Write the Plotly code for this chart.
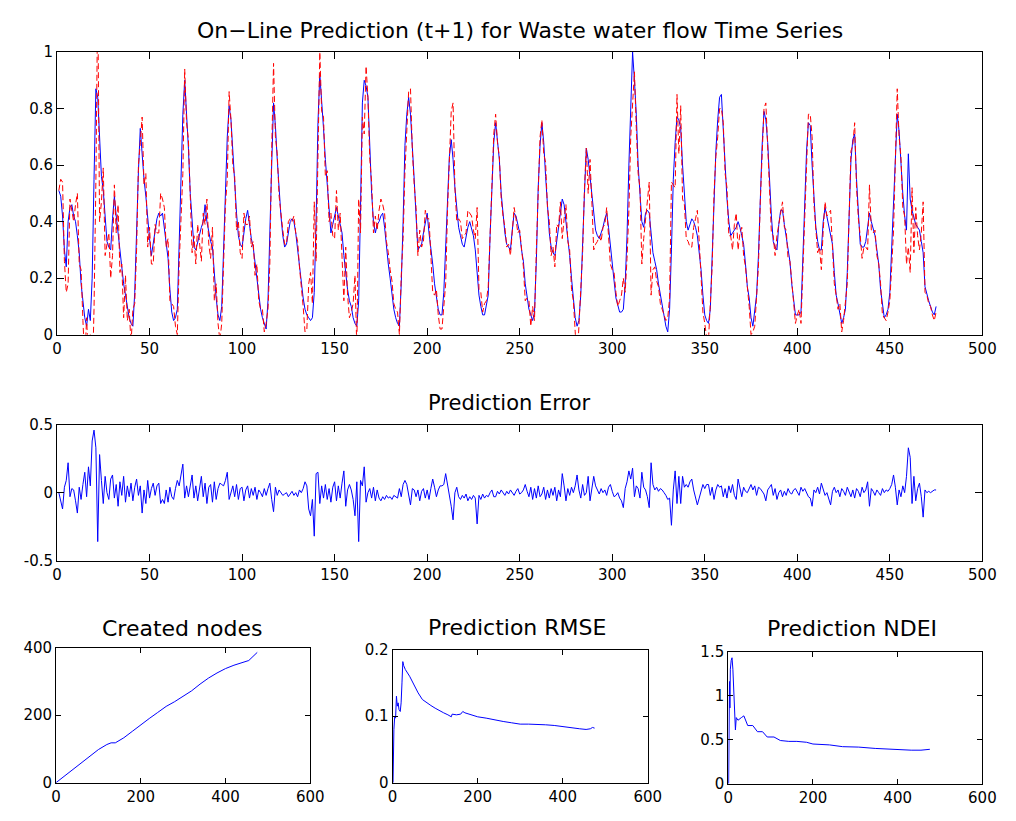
import plotly.graph_objects as go

W, H = 1016, 821

# ---------------- data ----------------
# target series (blue), one value per time step t = 1..475, in daily blocks
target_blocks = [
    [0.51, 0.49, 0.42, 0.30, 0.24, 0.40, 0.45, 0.46, 0.42, 0.40, 0.35, 0.29, 0.18, 0.11, 0.06, 0.03, 0.09, 0.05, 0.20, 0.55, 0.87, 0.84, 0.68, 0.56],
    [0.51, 0.40, 0.33, 0.31, 0.30, 0.41, 0.49, 0.42, 0.36, 0.30, 0.23, 0.18, 0.14, 0.10, 0.06, 0.04, 0.03, 0.15, 0.40, 0.58, 0.73, 0.62, 0.55, 0.49],
    [0.40, 0.34, 0.28, 0.32, 0.37, 0.41, 0.43, 0.42, 0.43, 0.37, 0.33, 0.27, 0.16, 0.08, 0.05, 0.06, 0.09, 0.30, 0.55, 0.78, 0.90, 0.80, 0.66, 0.50],
    [0.42, 0.31, 0.30, 0.33, 0.35, 0.38, 0.40, 0.46, 0.40, 0.36, 0.33, 0.31, 0.20, 0.13, 0.07, 0.05, 0.10, 0.30, 0.55, 0.70, 0.81, 0.76, 0.65, 0.53],
    [0.43, 0.35, 0.32, 0.31, 0.37, 0.41, 0.44, 0.38, 0.34, 0.31, 0.25, 0.20, 0.14, 0.09, 0.06, 0.04, 0.02, 0.12, 0.32, 0.60, 0.82, 0.74, 0.62, 0.51],
    [0.42, 0.35, 0.31, 0.32, 0.37, 0.40, 0.41, 0.40, 0.36, 0.30, 0.26, 0.18, 0.13, 0.09, 0.07, 0.06, 0.05, 0.06, 0.15, 0.40, 0.75, 0.92, 0.84, 0.73],
    [0.62, 0.53, 0.43, 0.36, 0.39, 0.42, 0.45, 0.42, 0.39, 0.36, 0.28, 0.21, 0.16, 0.12, 0.10, 0.06, 0.04, 0.03, 0.12, 0.45, 0.82, 0.90, 0.88, 0.84],
    [0.65, 0.50, 0.40, 0.36, 0.39, 0.40, 0.42, 0.43, 0.38, 0.31, 0.25, 0.20, 0.14, 0.09, 0.06, 0.04, 0.03, 0.18, 0.40, 0.67, 0.78, 0.84, 0.78, 0.68],
    [0.55, 0.42, 0.30, 0.31, 0.32, 0.36, 0.40, 0.43, 0.36, 0.31, 0.25, 0.18, 0.13, 0.09, 0.07, 0.07, 0.15, 0.32, 0.50, 0.63, 0.69, 0.62, 0.52, 0.44],
    [0.38, 0.35, 0.32, 0.31, 0.35, 0.38, 0.40, 0.37, 0.35, 0.30, 0.22, 0.14, 0.10, 0.07, 0.07, 0.10, 0.14, 0.35, 0.55, 0.68, 0.75, 0.69, 0.62, 0.50],
    [0.42, 0.36, 0.32, 0.31, 0.30, 0.37, 0.43, 0.42, 0.39, 0.36, 0.30, 0.26, 0.18, 0.14, 0.09, 0.07, 0.05, 0.08, 0.26, 0.52, 0.67, 0.75, 0.68, 0.56],
    [0.47, 0.36, 0.31, 0.29, 0.28, 0.33, 0.40, 0.44, 0.48, 0.46, 0.40, 0.36, 0.28, 0.20, 0.12, 0.06, 0.03, 0.05, 0.14, 0.35, 0.50, 0.66, 0.62, 0.56],
    [0.50, 0.42, 0.37, 0.35, 0.34, 0.36, 0.38, 0.41, 0.43, 0.38, 0.31, 0.24, 0.19, 0.13, 0.10, 0.08, 0.08, 0.09, 0.18, 0.35, 0.60, 0.80, 1.00, 0.90],
    [0.78, 0.60, 0.48, 0.40, 0.38, 0.43, 0.44, 0.43, 0.36, 0.29, 0.26, 0.23, 0.18, 0.14, 0.11, 0.07, 0.03, 0.01, 0.09, 0.30, 0.55, 0.68, 0.77, 0.76],
    [0.73, 0.60, 0.50, 0.40, 0.37, 0.39, 0.41, 0.40, 0.38, 0.35, 0.29, 0.23, 0.14, 0.07, 0.05, 0.04, 0.09, 0.28, 0.45, 0.65, 0.76, 0.84, 0.85, 0.72],
    [0.60, 0.48, 0.40, 0.35, 0.36, 0.37, 0.38, 0.40, 0.38, 0.35, 0.32, 0.25, 0.17, 0.13, 0.06, 0.03, 0.08, 0.14, 0.28, 0.50, 0.67, 0.79, 0.76, 0.68],
    [0.53, 0.42, 0.33, 0.31, 0.30, 0.39, 0.44, 0.44, 0.39, 0.35, 0.30, 0.26, 0.18, 0.12, 0.07, 0.07, 0.07, 0.08, 0.25, 0.44, 0.65, 0.75, 0.74, 0.60],
    [0.48, 0.38, 0.33, 0.30, 0.30, 0.40, 0.45, 0.42, 0.39, 0.35, 0.32, 0.22, 0.14, 0.11, 0.08, 0.04, 0.06, 0.09, 0.22, 0.42, 0.62, 0.69, 0.71, 0.55],
    [0.42, 0.32, 0.31, 0.31, 0.33, 0.38, 0.43, 0.40, 0.37, 0.35, 0.30, 0.25, 0.16, 0.10, 0.06, 0.07, 0.09, 0.15, 0.30, 0.50, 0.66, 0.78, 0.72, 0.60],
    [0.50, 0.42, 0.37, 0.64, 0.48, 0.44, 0.41, 0.39, 0.38, 0.37, 0.33, 0.29, 0.17, 0.14, 0.12, 0.10, 0.08, 0.07, 0.10],
]

# prediction error (target - prediction), same time steps
error_blocks = [
    [0.00, -0.06, -0.12, 0.04, 0.09, 0.22, -0.03, 0.03, 0.02, -0.06, -0.15, 0.04, -0.05, 0.06, 0.15, -0.03, 0.19, 0.05, 0.38, 0.46, 0.33, -0.36, 0.28, 0.09],
    [-0.08, 0.12, 0.00, -0.05, 0.10, 0.13, -0.04, 0.06, -0.10, 0.08, -0.02, 0.12, -0.07, 0.05, -0.03, 0.07, -0.06, 0.04, 0.10, -0.02, 0.05, -0.15, 0.02, -0.08],
    [0.09, -0.04, 0.03, 0.07, -0.02, 0.05, 0.07, -0.08, -0.05, -0.08, 0.02, -0.07, 0.04, -0.03, -0.05, 0.03, 0.09, 0.05, 0.12, 0.21, -0.04, 0.05, -0.03, 0.06],
    [0.13, -0.04, 0.05, -0.06, 0.02, 0.12, -0.03, 0.07, -0.08, 0.04, 0.06, -0.07, 0.08, -0.05, 0.03, 0.07, 0.06, 0.05, 0.09, 0.15, -0.05, 0.00, 0.05, -0.03],
    [0.06, -0.05, 0.03, 0.04, -0.06, 0.02, 0.05, -0.04, 0.03, -0.02, 0.04, -0.05, 0.02, 0.00, -0.03, 0.03, -0.02, 0.03, 0.07, -0.05, -0.14, 0.04, -0.02, 0.02],
    [0.00, -0.02, -0.01, 0.00, -0.03, -0.01, 0.01, -0.02, 0.00, -0.03, 0.02, 0.00, 0.03, 0.08, 0.05, -0.12, -0.17, -0.05, -0.32, 0.14, 0.15, -0.08, 0.05, -0.04],
    [0.06, -0.05, 0.03, -0.07, 0.04, 0.08, -0.06, 0.05, -0.04, 0.07, 0.16, -0.10, 0.02, 0.06, 0.02, -0.05, -0.17, 0.08, -0.36, 0.09, 0.05, 0.19, -0.07, 0.00],
    [0.03, -0.04, 0.04, -0.06, 0.02, -0.04, -0.06, -0.03, -0.05, -0.02, -0.04, -0.03, -0.05, -0.02, -0.03, -0.04, 0.03, -0.03, 0.06, 0.09, 0.06, -0.02, -0.09, 0.03],
    [0.02, -0.03, 0.02, -0.06, 0.01, 0.03, -0.04, 0.02, -0.05, 0.03, 0.10, 0.04, -0.03, 0.02, 0.05, 0.05, 0.06, 0.14, 0.06, 0.00, -0.10, -0.20, 0.00, 0.04],
    [-0.03, -0.05, -0.02, -0.04, -0.01, -0.06, -0.03, -0.05, -0.02, -0.04, -0.23, -0.02, -0.05, -0.01, -0.04, -0.02, -0.03, 0.00, 0.02, -0.03, -0.03, 0.01, -0.01, 0.02],
    [0.00, -0.02, 0.01, -0.01, 0.02, 0.00, -0.02, 0.01, 0.03, -0.01, 0.00, 0.02, 0.06, 0.01, -0.03, 0.04, -0.05, 0.03, -0.04, 0.05, -0.03, -0.01, 0.04, -0.05],
    [0.02, -0.04, 0.03, -0.02, 0.04, -0.06, 0.02, -0.03, 0.14, 0.05, -0.06, 0.03, -0.02, 0.04, 0.00, 0.05, 0.13, 0.02, -0.04, 0.06, -0.02, 0.00, 0.12, -0.06],
    [0.03, 0.12, 0.05, 0.02, -0.01, 0.03, 0.00, 0.02, -0.02, 0.04, 0.06, 0.01, -0.03, -0.02, 0.00, -0.04, -0.06, -0.11, 0.03, 0.08, 0.16, 0.10, 0.18, -0.03],
    [0.05, 0.03, -0.04, 0.15, 0.04, 0.02, -0.03, -0.11, 0.22, 0.06, 0.02, 0.04, 0.01, 0.03, 0.02, 0.00, -0.02, -0.05, -0.04, -0.24, 0.02, 0.16, -0.08, 0.12],
    [-0.08, 0.12, 0.04, 0.06, 0.04, 0.08, 0.10, 0.02, -0.03, -0.09, -0.04, 0.01, 0.06, 0.03, 0.06, 0.06, -0.02, 0.04, -0.05, 0.02, 0.06, 0.04, 0.05, -0.03],
    [0.03, -0.04, 0.05, 0.00, 0.06, -0.02, -0.05, 0.10, 0.02, -0.03, 0.04, 0.01, 0.00, 0.03, 0.06, 0.02, 0.05, -0.02, 0.04, 0.03, 0.01, -0.01, -0.06, 0.02],
    [0.04, 0.06, -0.02, 0.03, -0.05, 0.00, 0.02, -0.03, 0.01, -0.02, 0.03, 0.00, -0.01, 0.02, 0.03, 0.00, -0.02, 0.04, 0.01, 0.03, 0.00, -0.03, -0.04, -0.10],
    [0.02, 0.00, 0.04, -0.01, 0.07, 0.03, -0.02, 0.00, -0.04, -0.09, 0.01, 0.04, 0.00, 0.02, -0.03, 0.03, 0.01, -0.02, 0.04, 0.00, -0.03, 0.02, -0.04, 0.03],
    [0.01, -0.03, 0.04, 0.00, 0.02, 0.08, -0.10, 0.03, 0.01, -0.02, 0.02, 0.00, -0.02, 0.03, 0.00, 0.02, 0.01, 0.03, 0.06, 0.13, 0.04, -0.09, 0.02, -0.03],
    [0.05, 0.00, 0.12, 0.33, 0.26, -0.08, 0.12, -0.06, 0.03, 0.07, -0.03, -0.18, 0.02, 0.00, 0.01, 0.00, 0.01, 0.02, 0.02],
]

# created nodes
nodes_t = [0, 20, 40, 60, 80, 100, 120, 130, 140, 160, 180, 200, 220, 240, 260, 280, 300, 320, 340, 360, 380, 400, 420, 440, 455, 465, 475]
nodes_n = [0, 20, 40, 58, 80, 98, 113, 118, 118, 133, 152, 172, 190, 208, 226, 240, 255, 272, 292, 310, 325, 338, 348, 357, 362, 374, 386]

# prediction RMSE
rmse_t = [1, 2, 3, 5, 7, 9, 11, 13, 15, 18, 20, 22, 24, 26, 30, 40, 50, 60, 70, 80, 90, 100, 110, 120, 130, 138, 140, 150, 160, 165,
          170, 180, 200, 220, 240, 260, 280, 300, 320, 340, 360, 380, 400, 420, 440, 455, 465, 470, 475]
rmse_v = [0.0, 0.05, 0.08, 0.10, 0.097, 0.13, 0.115, 0.12, 0.11, 0.107, 0.12, 0.15, 0.182, 0.176, 0.170, 0.160, 0.147, 0.135, 0.125, 0.120,
          0.116, 0.112, 0.108, 0.105, 0.102, 0.099, 0.103, 0.102, 0.103, 0.107, 0.105, 0.103, 0.099, 0.097, 0.094, 0.092, 0.090, 0.088,
          0.088, 0.088, 0.087, 0.086, 0.084, 0.083, 0.081, 0.080, 0.081, 0.083, 0.082]

# prediction NDEI
ndei_t = [1, 2, 3, 4, 5, 7, 9, 11, 13, 15, 17, 19, 23, 31, 37, 46, 58, 69, 81, 92, 108, 123, 143, 162, 185, 200, 239, 270, 308, 347, 378, 409, 432, 455, 476]
ndei_v = [0.0, 0.86, 1.16, 0.86, 1.30, 1.40, 1.43, 1.30, 1.00, 0.68, 0.61, 0.75, 0.72, 0.75, 0.77, 0.66, 0.66, 0.59, 0.59, 0.53, 0.53, 0.49, 0.48, 0.48,
          0.47, 0.45, 0.44, 0.42, 0.415, 0.40, 0.39, 0.386, 0.38, 0.38, 0.39]

x_ticks_main = [0, 50, 100, 150, 200, 250, 300, 350, 400, 450, 500]
y_ticks_main = [0, 0.2, 0.4, 0.6, 0.8, 1]
y_ticks_main_text = ["0", "0.2", "0.4", "0.6", "0.8", "1"]
y_ticks_err = [-0.5, 0, 0.5]
y_ticks_err_text = ["-0.5", "0", "0.5"]
x_ticks_small = [0, 200, 400, 600]
y_ticks_nodes = [0, 200, 400]
y_ticks_rmse = [0, 0.1, 0.2]
y_ticks_ndei = [0, 0.5, 1, 1.5]
y_ticks_ndei_text = ["0", "0.5", "1", "1.5"]

titles = ["On\u2212Line Prediction (t+1) for Waste water flow Time Series", "Prediction Error",
          "Created nodes", "Prediction RMSE", "Prediction NDEI"]

# ---------------- build ----------------
target = [v for blk in target_blocks for v in blk]
error = [v for blk in error_blocks for v in blk]
n = min(len(target), len(error))
t = list(range(1, n + 1))
target = target[:n]
error = error[:n]
prediction = [a - b for a, b in zip(target, error)]

FONT = "DejaVu Sans"
BLUE = "#0000ff"
RED = "#ff0000"


def dom_x(a, b):
    return [a / W, b / W]


def dom_y(top, bottom):
    return [1 - bottom / H, 1 - top / H]


fig = go.Figure()
fig.add_trace(go.Scatter(x=t, y=target, mode="lines", line=dict(color=BLUE, width=1), xaxis="x", yaxis="y"))
fig.add_trace(go.Scatter(x=t, y=prediction, mode="lines", line=dict(color=RED, width=1, dash="6px,3px"), xaxis="x", yaxis="y"))
fig.add_trace(go.Scatter(x=t, y=error, mode="lines", line=dict(color=BLUE, width=1), xaxis="x2", yaxis="y2"))
fig.add_trace(go.Scatter(x=nodes_t, y=nodes_n, mode="lines", line=dict(color=BLUE, width=1), xaxis="x3", yaxis="y3"))
fig.add_trace(go.Scatter(x=rmse_t, y=rmse_v, mode="lines", line=dict(color=BLUE, width=1), xaxis="x4", yaxis="y4"))
fig.add_trace(go.Scatter(x=ndei_t, y=ndei_v, mode="lines", line=dict(color=BLUE, width=1), xaxis="x5", yaxis="y5"))

base = dict(showline=True, linecolor="black", linewidth=1, mirror="ticks", ticks="inside", ticklen=7,
            tickcolor="black", tickwidth=1, showgrid=False, zeroline=False,
            tickfont=dict(family=FONT, size=15, color="black"), fixedrange=True)

layout = dict(
    width=W, height=H, margin=dict(l=0, r=0, t=0, b=0), showlegend=False,
    paper_bgcolor="white", plot_bgcolor="white", font=dict(family=FONT, color="black"),
    xaxis=dict(base, domain=dom_x(53, 996), range=[0, 500], tickvals=x_ticks_main, anchor="y"),
    yaxis=dict(base, domain=dom_y(44, 333), range=[0, 1], tickvals=y_ticks_main, ticktext=y_ticks_main_text, anchor="x"),
    xaxis2=dict(base, domain=dom_x(53, 996), range=[0, 500], tickvals=x_ticks_main, anchor="y2"),
    yaxis2=dict(base, domain=dom_y(425, 564), range=[-0.5, 0.5], tickvals=y_ticks_err, ticktext=y_ticks_err_text, anchor="x2"),
    xaxis3=dict(base, domain=dom_x(52, 311), range=[0, 600], tickvals=x_ticks_small, anchor="y3", ticklen=5),
    yaxis3=dict(base, domain=dom_y(653, 791), range=[0, 400], tickvals=y_ticks_nodes, anchor="x3", ticklen=5),
    xaxis4=dict(base, domain=dom_x(395, 655), range=[0, 600], tickvals=x_ticks_small, anchor="y4", ticklen=5),
    yaxis4=dict(base, domain=dom_y(655, 791), range=[0, 0.2], tickvals=y_ticks_rmse, anchor="x4", ticklen=5),
    xaxis5=dict(base, domain=dom_x(737, 996), range=[0, 600], tickvals=x_ticks_small, anchor="y5", ticklen=5),
    yaxis5=dict(base, domain=dom_y(657, 792), range=[0, 1.5], tickvals=y_ticks_ndei, ticktext=y_ticks_ndei_text, anchor="x5", ticklen=5),
)
fig.update_layout(**layout)

title_pos = [(524.5, 22), (514, 403), (180, 633), (522, 632), (863, 633)]
title_size = [22, 21, 22, 22, 22]
for txt, (cx, cy), sz in zip(titles, title_pos, title_size):
    fig.add_annotation(text=txt, x=cx / W, y=1 - cy / H, xref="paper", yref="paper",
                       xanchor="center", yanchor="middle", showarrow=False,
                       font=dict(family=FONT, size=sz, color="black"))

fig.write_html("out.html")
